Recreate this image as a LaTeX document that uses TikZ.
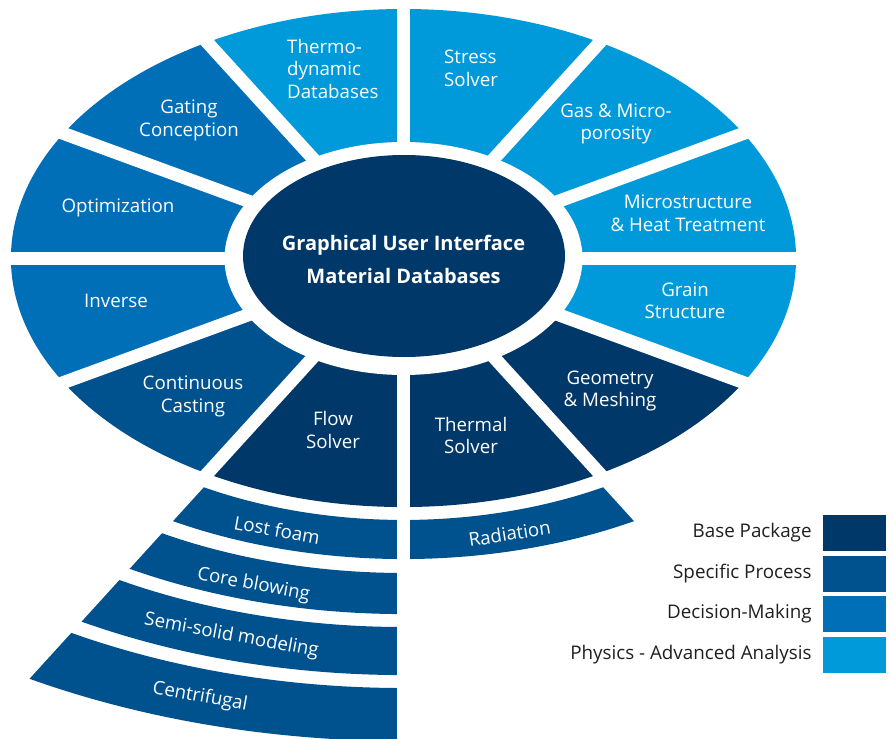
\documentclass[tikz,border=0pt]{standalone}
\usepackage{fontspec}
\setmainfont{Open Sans}
\usetikzlibrary{positioning}

\definecolor{basepkg}{HTML}{00386A}
\definecolor{specproc}{HTML}{00528F}
\definecolor{decision}{HTML}{006FB8}
\definecolor{physics}{HTML}{009ADA}

% one band of the ring, scaled ellipse units: inner, outer, from, to
\newcommand{\ringband}[4]{
  (#3:#1) -- (#3:#2)
  arc[start angle=#3,end angle=#4,x radius=#2*392.5pt,y radius=#2*249pt]
  -- (#4:#1)
  arc[start angle=#4,end angle=#3,x radius=#1*392.5pt,y radius=#1*249pt] -- cycle
}

\tikzset{
  seglabel/.style={text=white,font=\fontsize{18.7}{22.5}\selectfont,align=center,inner sep=0pt},
  bandlabel/.style={text=white,font=\fontsize{18.7}{22}\selectfont,inner sep=0pt},
  gap/.style={white,line width=13pt},
  legbox/.style={minimum width=63pt,minimum height=36pt,inner sep=0pt},
  legtext/.style={text=black!88,font=\fontsize{18.8}{22}\selectfont,inner sep=0pt},
}

\begin{document}
\begin{tikzpicture}[x=1pt,y=-1pt]
\useasboundingbox (0,0) rectangle (893,738);

\begin{scope}[shift={(403.5,258)},x=392.5pt,y=249pt]
  % ring
  \fill[physics] (0,0) -- (-30:1) arc[start angle=-30,end angle=120,x radius=392.5pt,y radius=249pt] -- cycle;
  \fill[decision] (0,0) -- (120:1) arc[start angle=120,end angle=210,x radius=392.5pt,y radius=249pt] -- cycle;
  \fill[specproc] (0,0) -- (210:1) arc[start angle=210,end angle=240,x radius=392.5pt,y radius=249pt] -- cycle;
  \fill[basepkg] (0,0) -- (240:1) arc[start angle=240,end angle=330,x radius=392.5pt,y radius=249pt] -- cycle;
  % process bands below
  \fill[specproc] \ringband{1.052}{1.209}{-120}{-90};
  \fill[specproc] \ringband{1.265}{1.430}{-120}{-90};
  \fill[specproc] \ringband{1.482}{1.675}{-120}{-90};
  \fill[specproc] \ringband{1.727}{1.940}{-120}{-90};
  \fill[specproc] \ringband{1.052}{1.209}{-90}{-60};
  % gaps
  \draw[gap] (0:1.1) -- (180:1.1);
  \draw[gap] (30:1.1) -- (210:1.1);
  \draw[gap] (60:1.1) -- (240:2.1);
  \draw[gap] (90:1.1) -- (270:2.1);
  \draw[gap] (120:1.1) -- (300:1.3);
  \draw[gap] (150:1.1) -- (330:1.1);
\end{scope}

\fill[white] (403.5,258.5) ellipse[x radius=179pt,y radius=116.5pt];
\fill[basepkg] (404,256) ellipse[x radius=161pt,y radius=101pt];

\node[text=white,font=\bfseries\fontsize{20}{33}\selectfont,align=center,inner sep=0pt] (gui) at (403.5,259)
  {Graphical User Interface\\Material Databases};

\node[seglabel,align=left,anchor=west] (thermo) at (287,68.5) {Thermo-\\dynamic\\Databases};
\node[seglabel,align=left,anchor=west] (stress) at (444,68.5) {Stress\\Solver};
\node[seglabel] (gas) at (616,124) {Gas \& Micro-\\porosity};
\node[seglabel] (micro) at (688,213) {Microstructure\\\& Heat Treatment};
\node[seglabel] (grain) at (685,300.5) {Grain\\Structure};
\node[seglabel] (geometry) at (610,391) {Geometry\\\& Meshing};
\node[seglabel] (thermal) at (471,435.5) {Thermal\\Solver};
\node[seglabel] (flow) at (333,430) {Flow\\Solver};
\node[seglabel] (continuous) at (193,396.5) {Continuous\\Casting};
\node[seglabel] (inverse) at (116,300.5) {Inverse};
\node[seglabel] (optim) at (118,207.5) {Optimization};
\node[seglabel] (gating) at (189,120.5) {Gating\\Conception};

\node[bandlabel,rotate=-10.3] (lostfoam) at (277,530) {Lost foam};
\node[bandlabel,rotate=-10.3] (coreblow) at (253.5,585) {Core blowing};
\node[bandlabel,rotate=-10.3] (semisolid) at (231.5,636) {Semi-solid modeling};
\node[bandlabel,rotate=-10.3] (centrif) at (200,697) {Centrifugal};
\node[bandlabel,rotate=9] (radiation) at (509.5,533.5) {Radiation};

% legend
\node[legbox,fill=basepkg] (base box) at (854.5,533) {};
\node[legbox,fill=specproc] (spec box) at (854.5,574) {};
\node[legbox,fill=decision] (dec box) at (854.5,614) {};
\node[legbox,fill=physics] (phys box) at (854.5,655) {};
\node[legtext,left=11pt of base box] (base text) {Base Package};
\node[legtext,left=11pt of spec box] (spec text) {Specific Process};
\node[legtext,left=11pt of dec box] (dec text) {Decision-Making};
\node[legtext,left=11pt of phys box] (phys text) {Physics - Advanced Analysis};
\end{tikzpicture}
\end{document}
